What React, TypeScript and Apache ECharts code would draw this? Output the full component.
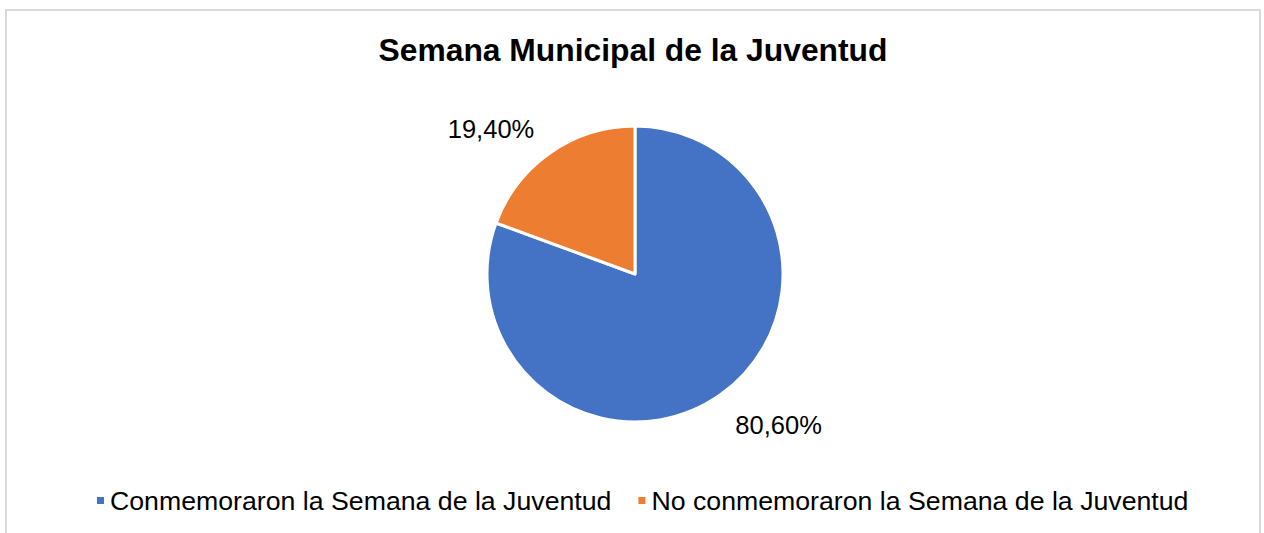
import React, { useEffect, useRef } from "react";
import * as echarts from "echarts";

const TITLE = "Semana Municipal de la Juventud";
const categories = [
  "Conmemoraron la Semana de la Juventud",
  "No conmemoraron la Semana de la Juventud",
];
const values = [80.6, 19.4];
const colors = ["#4472C4", "#ED7D31"];
const labelShift = [
  [-2, 12],
  [5, -1],
];

export default function App() {
  const ref = useRef<HTMLDivElement>(null);
  useEffect(() => {
    if (!ref.current) return;
    const chart = echarts.init(ref.current, undefined, { renderer: "svg" });
    chart.setOption({
      animation: false,
      backgroundColor: "#ffffff",
      title: {
        text: TITLE,
        left: "center",
        top: 18,
        textStyle: {
          fontFamily: "Liberation Sans, Arial, sans-serif",
          fontSize: 31.8,
          fontWeight: "bold",
          color: "#000000",
        },
      },
      legend: {
        top: 471,
        left: 83,
        itemWidth: 9,
        itemHeight: 9,
        itemGap: 25,
        icon: "rect",
        textStyle: {
          fontFamily: "Liberation Sans, Arial, sans-serif",
          fontSize: 26.7,
          color: "#000000",
        },
        data: categories,
      },
      series: [
        {
          type: "pie",
          center: [628, 263],
          radius: 148,
          startAngle: 90,
          clockwise: true,
          itemStyle: { borderColor: "#ffffff", borderWidth: 3 },
          label: {
            show: true,
            position: "outside",
            formatter: (p: any) => p.value.toFixed(2).replace(".", ",") + "%",
            fontFamily: "Liberation Sans, Arial, sans-serif",
            fontSize: 25.5,
            color: "#000000",
          },
          labelLine: { show: false, length: 22, length2: 0 },
          labelLayout: (p: any) => ({
            dx: labelShift[p.dataIndex][0],
            dy: labelShift[p.dataIndex][1],
          }),
          data: categories.map((c, i) => ({
            name: c,
            value: values[i],
            itemStyle: { color: colors[i] },
            labelLine: { show: false, length: i === 0 ? 22 : 28, length2: 0 },
          })),
        },
      ],
    });
    return () => chart.dispose();
  }, []);
  return (
    <div style={{ position: "fixed", inset: 0, overflow: "hidden", background: "#fff" }}>
      <div
        style={{
          position: "absolute",
          left: 5,
          top: 9,
          width: 1256,
          height: 560,
          border: "2px solid #d9d9d9",
          boxSizing: "border-box",
        }}
      >
        <div ref={ref} style={{ width: "100%", height: "100%" }} />
      </div>
    </div>
  );
}
